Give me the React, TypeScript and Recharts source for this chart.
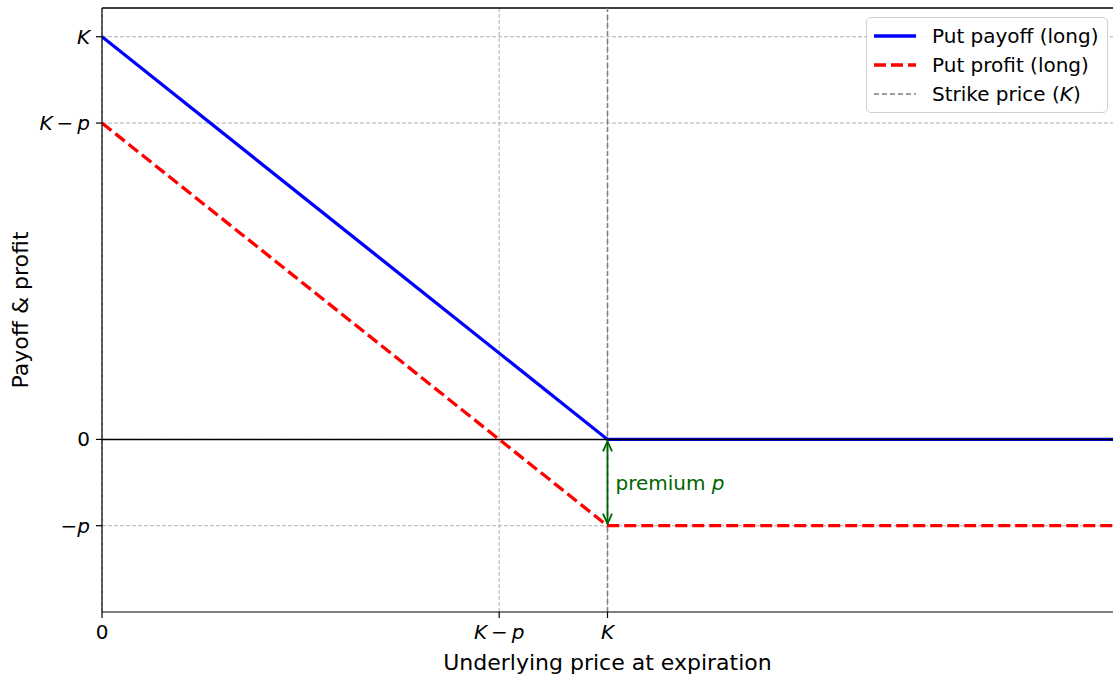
import React from 'react';
import {
  LineChart,
  Line,
  XAxis,
  YAxis,
  CartesianGrid,
  ReferenceLine,
  Legend,
  Label,
} from 'recharts';

// strike K and premium p (chart units)
const strike = 70;
const premium = 15;

// underlying price at expiration
const prices = [0, 70, 140];
// long put payoff max(K - S, 0) and profit (payoff - p)
const putPayoff = [70, 0, 0];
const putProfit = [55, -15, -15];

const xTicks = [0, 55, 70];
const xTickLabels = ['0', 'K−p', 'K'];
const yTicks = [-15, 0, 55, 70];
const yTickLabels = ['−p', '0', 'K−p', 'K'];

const xDomain = [0, 140];
const yDomain = [-30, 75];

const data = prices.map((s, i) => ({ s, payoff: putPayoff[i], profit: putProfit[i] }));

const FONT = '"DejaVu Sans", sans-serif';
const TICK_SIZE = 20;
const LABEL_SIZE = 22;

// mathtext-like label: K and p in italics, binary minus padded
const MathLabel: React.FC<{ text: string }> = ({ text }) => {
  const parts = text.split(/(K|p|−)/).filter((t) => t.length > 0);
  return (
    <>
      {parts.map((t, i) => {
        const binary = i > 0 && parts[i - 1] !== '−' && t === '−';
        const afterBinary = i > 1 && parts[i - 1] === '−';
        const dx = binary ? 4 : afterBinary ? 4 : 0;
        return (
          <tspan key={i} dx={dx} fontStyle={t === 'K' || t === 'p' ? 'italic' : 'normal'}>
            {t}
          </tspan>
        );
      })}
    </>
  );
};

const XTick = (props: any) => {
  const { x, y, payload } = props;
  const idx = xTicks.indexOf(payload.value);
  return (
    <text x={x} y={y + 19} textAnchor="middle" fontFamily={FONT} fontSize={TICK_SIZE} fill="#000">
      <MathLabel text={xTickLabels[idx]} />
    </text>
  );
};

const YTick = (props: any) => {
  const { x, y, payload } = props;
  const idx = yTicks.indexOf(payload.value);
  return (
    <text x={x - 4} y={y + 7} textAnchor="end" fontFamily={FONT} fontSize={TICK_SIZE} fill="#000">
      <MathLabel text={yTickLabels[idx]} />
    </text>
  );
};

// double-headed green arrow showing the premium between 0 and -p
const PremiumArrow = (props: any) => {
  const { x1, y1, y2 } = props;
  const top = Math.min(y1, y2) + 2;
  const bottom = Math.max(y1, y2) - 2;
  const head = 10;
  const half = 4.5;
  const mid = (top + bottom) / 2;
  return (
    <g stroke="#006400" strokeWidth={1.8} fill="none">
      <line x1={x1} y1={top} x2={x1} y2={bottom} />
      <polyline points={`${x1 - half},${top + head} ${x1},${top} ${x1 + half},${top + head}`} />
      <polyline points={`${x1 - half},${bottom - head} ${x1},${bottom} ${x1 + half},${bottom - head}`} />
      <text
        x={x1 + 8}
        y={mid + 7}
        stroke="none"
        fill="#006400"
        fontFamily={FONT}
        fontSize={TICK_SIZE}
      >
        premium <tspan fontStyle="italic">p</tspan>
      </text>
    </g>
  );
};

const legendItems = [
  { label: 'Put payoff (long)', color: '#0000ff', width: 3.3, dash: undefined as string | undefined },
  { label: 'Put profit (long)', color: '#ff0000', width: 3.3, dash: '12 5' },
  { label: 'Strike price (K)', color: '#808080', width: 1.6, dash: '5 3' },
];

const LegendBox = () => (
  <div
    style={{
      background: 'rgba(255,255,255,0.85)',
      border: '1px solid #d0d0d0',
      borderRadius: 5,
      padding: '3px 8px 4px 7px',
      fontFamily: FONT,
      fontSize: TICK_SIZE,
      color: '#000',
    }}
  >
    {legendItems.map((it) => (
      <div key={it.label} style={{ display: 'flex', alignItems: 'center', height: 29 }}>
        <svg width={42} height={10} style={{ marginRight: 16 }}>
          <line
            x1={0}
            y1={5}
            x2={42}
            y2={5}
            stroke={it.color}
            strokeWidth={it.width}
            strokeDasharray={it.dash}
          />
        </svg>
        <span style={{ whiteSpace: 'nowrap' }}>
          {it.label === 'Strike price (K)' ? (
            <>
              Strike price (<i>K</i>)
            </>
          ) : (
            it.label
          )}
        </span>
      </div>
    ))}
  </div>
);

export default function App() {
  return (
    <div style={{ position: 'absolute', left: 0, top: 0, width: 1113, height: 679, background: '#fff' }}>
      <LineChart
        width={1113}
        height={679}
        data={data}
        margin={{ top: 8, right: 0, bottom: 0, left: 0 }}
        style={{ fontFamily: FONT }}
      >
        <CartesianGrid
          horizontalValues={yTicks}
          verticalValues={xTicks}
          stroke="#b0b0b0"
          strokeDasharray="4 2"
          strokeWidth={1}
        />
        <XAxis
          dataKey="s"
          type="number"
          domain={xDomain}
          ticks={xTicks}
          tick={<XTick />}
          tickSize={6}
          height={67}
          allowDataOverflow
          stroke="#000"
          tickLine={{ stroke: '#000', strokeWidth: 1.2 }}
          axisLine={{ stroke: '#000', strokeWidth: 1.2 }}
        >
          <Label
            value="Underlying price at expiration"
            position="insideBottom"
            offset={9}
            style={{ fontFamily: FONT, fontSize: LABEL_SIZE, fill: '#000' }}
          />
        </XAxis>
        <YAxis
          type="number"
          domain={yDomain}
          ticks={yTicks}
          tick={<YTick />}
          tickSize={6}
          width={102}
          allowDataOverflow
          tickLine={{ stroke: '#000', strokeWidth: 1.2 }}
          axisLine={{ stroke: '#000', strokeWidth: 1.2 }}
        >
          <Label
            value="Payoff & profit"
            angle={-90}
            position="insideLeft"
            offset={20}
            style={{ fontFamily: FONT, fontSize: LABEL_SIZE, fill: '#000', textAnchor: 'middle' }}
          />
        </YAxis>
        {/* top spine */}
        <ReferenceLine y={yDomain[1]} stroke="#000" strokeWidth={1.5} ifOverflow="extendDomain" />
        <ReferenceLine x={strike} stroke="#808080" strokeWidth={1.6} strokeDasharray="5 3" />
        <Line
          dataKey="payoff"
          type="linear"
          stroke="#0000ff"
          strokeWidth={3.3}
          dot={false}
          isAnimationActive={false}
        />
        <Line
          dataKey="profit"
          type="linear"
          stroke="#ff0000"
          strokeWidth={3.3}
          strokeDasharray="12 5"
          dot={false}
          isAnimationActive={false}
        />
        <ReferenceLine y={0} stroke="#000" strokeWidth={1.5} />
        <ReferenceLine
          segment={[
            { x: strike, y: 0 },
            { x: strike, y: -premium },
          ]}
          shape={<PremiumArrow />}
        />
        <Legend
          layout="horizontal"
          verticalAlign="middle"
          content={<LegendBox />}
          wrapperStyle={{ position: 'absolute', top: 17, left: 866, width: 'auto' }}
        />
      </LineChart>
    </div>
  );
}
